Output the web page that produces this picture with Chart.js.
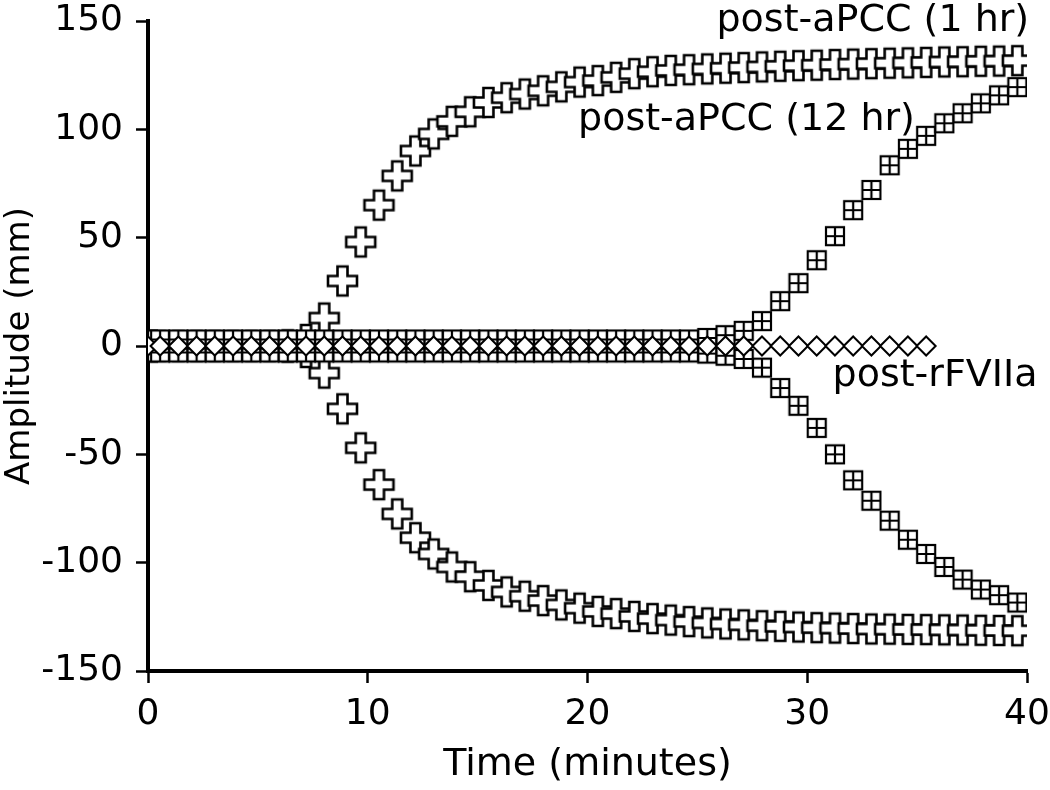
<!DOCTYPE html>
<html><head><meta charset="utf-8">
<script src="https://cdn.jsdelivr.net/npm/chart.js@4.4.1/dist/chart.umd.min.js"></script>
<style>html,body{margin:0;padding:0;background:#fff}#wrap{width:1050px;height:790px;position:relative}</style>
</head><body><div id="wrap"><canvas id="c" width="1050" height="790"></canvas></div>
<script>
// ---- data ----
const timeMin = [0, 0.55, 1.38, 2.21, 3.04, 3.87, 4.70, 5.53, 6.36, 7.19,
  8.02, 8.85, 9.68, 10.51, 11.34, 12.17, 13.00, 13.83, 14.66, 15.49,
  16.32, 17.15, 17.98, 18.81, 19.64, 20.47, 21.30, 22.13, 22.96, 23.79,
  24.62, 25.45, 26.28, 27.11, 27.94, 28.77, 29.60, 30.43, 31.26, 32.09,
  32.92, 33.75, 34.58, 35.41, 36.24, 37.07, 37.90, 38.73, 39.56];

const aPCC1hUpper = [0, 0, 0, 0, 0, 0, 0, 0, 0.5, 3,
  12.9, 30, 48, 65, 78.5, 90, 97.9, 103.7, 108.1, 112.4,
  114.6, 116.3, 117.8, 119.6, 121.8, 122.5, 124, 125.7, 126.6, 127.2,
  127.5, 127.9, 128.2, 128.5, 128.8, 129.1, 129.4, 129.6, 129.9, 130.1,
  130.3, 130.5, 130.7, 130.9, 131.1, 131.2, 131.4, 131.5, 131.7];

const aPCC1hLower = [0, 0, 0, 0, 0, 0, 0, 0, -0.5, -3,
  -12.5, -29, -47, -64, -77.5, -88.5, -96, -102, -106.5, -110.5,
  -113.5, -115.5, -117.5, -119.5, -121, -122.5, -123.5, -124.8, -125.8, -126.5,
  -127.2, -127.8, -128.3, -128.7, -129.1, -129.4, -129.7, -130, -130.2, -130.4,
  -130.6, -130.7, -130.8, -130.9, -131, -131.1, -131.2, -131.3, -131.4];

const aPCC12hUpper = [3, 3, 3, 3, 3, 3, 3, 3, 3, 3,
  3, 3, 3, 3, 3, 3, 3, 3, 3, 3,
  3, 3, 3, 3, 3, 3, 3, 3, 3, 3,
  3, 3.7, 5, 7, 11.5, 20.7, 29, 39.6, 50.7, 62.7,
  72, 83.4, 91, 97, 102.8, 107.4, 112, 115.7, 119.5];

const aPCC12hLower = [-3, -3, -3, -3, -3, -3, -3, -3, -3, -3,
  -3, -3, -3, -3, -3, -3, -3, -3, -3, -3,
  -3, -3, -3, -3, -3, -3, -3, -3, -3, -3,
  -3, -3.5, -4.5, -6, -10, -19.4, -27.6, -37.8, -50, -62,
  -71.4, -80.6, -89.4, -96, -102, -107.8, -112.4, -115, -118.4];

const rFVIIa = [0, 0, 0, 0, 0, 0, 0, 0, 0, 0,
  0, 0, 0, 0, 0, 0, 0, 0, 0, 0,
  0, 0, 0, 0, 0, 0, 0, 0, 0, 0,
  0, 0, 0, 0, 0, 0, 0, 0, 0, 0,
  0, 0, 0, 0];

const seriesNames = ['post-aPCC (1 hr)', 'post-aPCC (12 hr)', 'post-rFVIIa'];
const xLimits = [0, 40];
const yLimits = [-150, 150];
const xStep = 10;
const yStep = 50;

// ---- helpers ----
const pts = (vals) => vals.map((v, i) => ({ x: timeMin[i], y: v }));

function fatPlus() {
  const c = document.createElement('canvas');
  c.width = 35; c.height = 35;
  const g = c.getContext('2d');
  const m = 17.5, a = 5, L = 14.5;
  g.beginPath();
  g.moveTo(m - a, m - L); g.lineTo(m + a, m - L); g.lineTo(m + a, m - a);
  g.lineTo(m + L, m - a); g.lineTo(m + L, m + a); g.lineTo(m + a, m + a);
  g.lineTo(m + a, m + L); g.lineTo(m - a, m + L); g.lineTo(m - a, m + a);
  g.lineTo(m - L, m + a); g.lineTo(m - L, m - a); g.lineTo(m - a, m - a);
  g.closePath();
  g.fillStyle = '#fff'; g.fill();
  g.lineWidth = 2.6; g.strokeStyle = '#000'; g.lineJoin = 'miter'; g.stroke();
  return c;
}
function squarePlus() {
  const c = document.createElement('canvas');
  c.width = 22; c.height = 22;
  const g = c.getContext('2d');
  const s = 18, o = (22 - s) / 2;
  g.fillStyle = '#fff'; g.fillRect(o, o, s, s);
  g.lineWidth = 2.2; g.strokeStyle = '#000';
  g.strokeRect(o, o, s, s);
  g.beginPath();
  g.moveTo(11, o); g.lineTo(11, o + s);
  g.moveTo(o, 11); g.lineTo(o + s, 11);
  g.stroke();
  return c;
}
const crossImg = fatPlus();
const sqImg = squarePlus();

const labelAnchors = [
  { text: seriesNames[0], x: 40.1, y: 145.3, align: 'right' },
  { text: seriesNames[1], x: 34.9, y: 99.5, align: 'right' },
  { text: seriesNames[2], x: 31.15, y: -18.5, align: 'left' }
];
const labelPlugin = {
  id: 'seriesLabels',
  afterDraw(chart) {
    const { ctx, scales } = chart;
    ctx.save();
    ctx.fillStyle = '#000';
    ctx.font = '38px "DejaVu Sans"';
    ctx.textBaseline = 'alphabetic';
    labelAnchors.forEach(d => {
      ctx.textAlign = d.align;
      ctx.fillText(d.text, scales.x.getPixelForValue(d.x), scales.y.getPixelForValue(d.y));
    });
    ctx.restore();
  }
};

Chart.defaults.font.family = '"DejaVu Sans", sans-serif';
Chart.defaults.color = '#000';

const common = { showLine: false, pointHoverRadius: 0 };

new Chart(document.getElementById('c'), {
  type: 'scatter',
  data: {
    datasets: [
      { ...common, label: seriesNames[2], data: pts(rFVIIa), pointStyle: 'rectRot', pointRadius: 9.5,
        pointBorderWidth: 2, pointBorderColor: '#000', pointBackgroundColor: '#fff' },
      { ...common, label: seriesNames[1], data: pts(aPCC12hUpper), pointStyle: sqImg, pointRadius: 9 },
      { ...common, label: seriesNames[1] + ' lower', data: pts(aPCC12hLower), pointStyle: sqImg, pointRadius: 9 },
      { ...common, label: seriesNames[0], data: pts(aPCC1hUpper), pointStyle: crossImg, pointRadius: 15 },
      { ...common, label: seriesNames[0] + ' lower', data: pts(aPCC1hLower), pointStyle: crossImg, pointRadius: 15 }
    ]
  },
  options: {
    responsive: false,
    animation: false,
    events: [],
    layout: { padding: { left: 0, right: 23, top: 21, bottom: 0 } },
    plugins: { legend: { display: false }, tooltip: { enabled: false } },
    scales: {
      x: {
        type: 'linear', min: xLimits[0], max: xLimits[1],
        ticks: { stepSize: xStep, font: { size: 36 }, padding: 10, color: '#000' },
        grid: { display: true, drawOnChartArea: false, drawTicks: true, tickLength: 12, tickWidth: 2.5, tickColor: '#000' },
        border: { display: true, width: 4, color: '#000' },
        title: { display: true, text: 'Time (minutes)', font: { size: 38 }, color: '#000', padding: { top: 0, bottom: 2 } },
        afterFit(s) { s.height = 119; s.paddingLeft = 0; s.paddingRight = 0; }
      },
      y: {
        type: 'linear', min: yLimits[0], max: yLimits[1],
        ticks: { stepSize: yStep, font: { size: 36 }, padding: 13, color: '#000' },
        grid: { display: true, drawOnChartArea: false, drawTicks: true, tickLength: 12, tickWidth: 2.5, tickColor: '#000' },
        border: { display: true, width: 4, color: '#000' },
        title: { display: true, text: 'Amplitude (mm)', font: { size: 34 }, color: '#000', padding: { top: 0, bottom: 0 } },
        afterFit(s) { s.width = 148; s.paddingTop = 0; s.paddingBottom = 0; }
      }
    }
  },
  plugins: [labelPlugin]
});
</script>
</body></html>
